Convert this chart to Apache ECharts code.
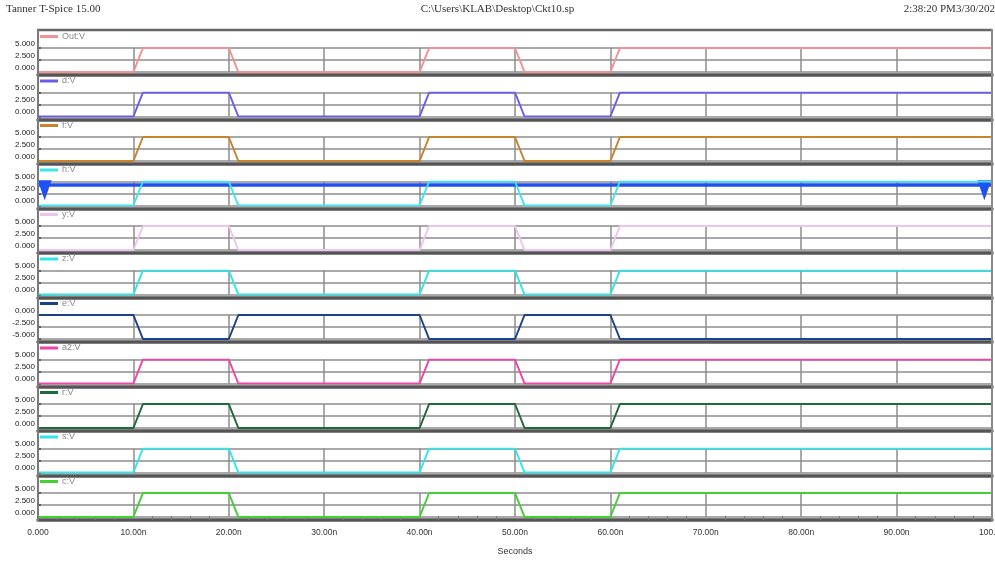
<!DOCTYPE html>
<html>
<head>
<meta charset="utf-8">
<script src="https://cdn.jsdelivr.net/npm/echarts@6/dist/echarts.min.js"></script>
<style>
  html, body { margin: 0; padding: 0; background: #ffffff; }
  #chart { width: 995px; height: 566px; }
</style>
</head>
<body>
<div id="chart"></div>
<script>
// Transient simulation: node voltages sampled at the pulse edges (time in ns)
const times = [0, 10, 11, 20, 21, 40, 41, 50, 51, 60, 61, 100];

const outV = [0, 0, 5, 5, 0, 0, 5, 5, 0, 0, 5, 5];
const dV   = [0, 0, 5, 5, 0, 0, 5, 5, 0, 0, 5, 5];
const fV   = [0, 0, 5, 5, 0, 0, 5, 5, 0, 0, 5, 5];
const hV   = [0, 0, 5, 5, 0, 0, 5, 5, 0, 0, 5, 5];
const yV   = [0, 0, 5, 5, 0, 0, 5, 5, 0, 0, 5, 5];
const zV   = [0, 0, 5, 5, 0, 0, 5, 5, 0, 0, 5, 5];
const eV   = [0, 0, -5, -5, 0, 0, -5, -5, 0, 0, -5, -5];
const a2V  = [0, 0, 5, 5, 0, 0, 5, 5, 0, 0, 5, 5];
const rV   = [0, 0, 5, 5, 0, 0, 5, 5, 0, 0, 5, 5];
const sV   = [0, 0, 5, 5, 0, 0, 5, 5, 0, 0, 5, 5];
const cV   = [0, 0, 5, 5, 0, 0, 5, 5, 0, 0, 5, 5];

const traceNames  = ['Out:V', 'd:V', 'f:V', 'h:V', 'y:V', 'z:V', 'e:V', 'a2:V', 'r:V', 's:V', 'c:V'];
const traceValues = [outV, dV, fV, hV, yV, zV, eV, a2V, rV, sV, cV];
const traceColors = ['#f49191', '#6b5cf0', '#c8842c', '#3fe6f0', '#f0c2f0', '#2fe6e6',
                     '#1f4189', '#f043a8', '#1f6a36', '#2fe6f0', '#42d032'];
const yRanges = [[0, 5], [0, 5], [0, 5], [0, 5], [0, 5], [0, 5], [-5, 0], [0, 5], [0, 5], [0, 5], [0, 5]];

// Horizontal cursor on the h:V trace
const cursorLevel = 4.4;
const cursorColor = '#1f50f0';
const cursorMarks = [[0.7, 3.2], [99.2, 3.2]];

const headerLeft = 'Tanner T-Spice 15.00';
const headerCenter = 'C:\\Users\\KLAB\\Desktop\\Ckt10.sp';
const headerRight = '2:38:20 PM3/30/202';

const xTickStep = 10;
const xMax = 100;

// Layout of the stacked panels
const plotLeft = 38, plotRight = 3;
const firstTop = 48, pitch = 44.5, plotH = 24;
const nPanels = traceNames.length;

const chart = echarts.init(document.getElementById('chart'), null, { renderer: 'canvas' });

const grids = [], xAxes = [], yAxes = [], series = [], legends = [];
for (let i = 0; i < nPanels; i++) {
  const top = firstTop + pitch * i;
  const last = i === nPanels - 1;
  grids.push({ left: plotLeft, right: plotRight, top: top, height: plotH,
               containLabel: false, outerBoundsMode: 'none' });

  xAxes.push({
    type: 'value', gridIndex: i, min: 0, max: xMax, interval: xTickStep,
    offset: 3,
    axisLine: { show: true, onZero: false, lineStyle: { color: '#555555', width: 3.5 } },
    axisTick: { show: false, inside: true },
    minorTick: last ? { show: true, splitNumber: 5, length: 4, lineStyle: { color: '#777777', width: 1 } } : { show: false },
    splitLine: { show: true, lineStyle: { color: '#8c8c8c', width: 1.5 } },
    axisLabel: last ? {
      show: true, fontSize: 8.5, color: '#333333', fontFamily: 'Liberation Sans', margin: 8,
      formatter: v => v === 0 ? '0.000' : (v >= 100 ? v.toFixed(1) + 'n' : v.toFixed(2) + 'n')
    } : { show: false },
    name: last ? 'Seconds' : '',
    nameLocation: 'middle', nameGap: 27,
    nameTextStyle: { fontSize: 9, color: '#333333', fontFamily: 'Liberation Sans' }
  });

  yAxes.push({
    type: 'value', gridIndex: i, min: yRanges[i][0], max: yRanges[i][1], interval: 2.5,
    axisLine: { show: false },
    axisTick: { show: true, inside: true, length: 3, lineStyle: { color: '#444444', width: 1.5 } },
    splitLine: { show: true, lineStyle: { color: '#8c8c8c', width: 1.5 } },
    axisLabel: {
      fontSize: 8, color: '#222222', fontFamily: 'Liberation Sans', margin: 3,
      verticalAlign: 'bottom', lineHeight: 9,
      formatter: v => v.toFixed(3)
    }
  });

  const s = {
    name: traceNames[i], type: 'line', xAxisIndex: i, yAxisIndex: i,
    data: times.map((t, k) => [t, traceValues[i][k]]),
    showSymbol: false, symbol: 'none', animation: false,
    lineStyle: { color: traceColors[i], width: 2 },
    itemStyle: { color: traceColors[i] },
    z: 5
  };
  if (i === 3) {
    s.markLine = {
      silent: true, symbol: 'none', animation: false,
      label: { show: false },
      lineStyle: { color: cursorColor, width: 3.5, type: 'solid' },
      data: [{ yAxis: cursorLevel }]
    };
    s.markPoint = {
      silent: true, animation: false,
      symbol: 'triangle', symbolRotate: 180, symbolSize: [14, 20],
      itemStyle: { color: cursorColor },
      label: { show: false },
      data: cursorMarks.map(c => ({ coord: c }))
    };
  }
  series.push(s);

  legends.push({
    data: [traceNames[i]],
    left: 40, top: top - 16,
    itemWidth: 18, itemHeight: 3, itemGap: 4,
    icon: 'rect', selectedMode: false, padding: 0,
    textStyle: { fontSize: 9, color: '#8a8a8a', fontFamily: 'Liberation Sans', padding: [0, 0, 0, -1] }
  });
}

const bottomEdge = firstTop + pitch * (nPanels - 1) + plotH + 4;

chart.setOption({
  animation: false,
  backgroundColor: '#ffffff',
  grid: grids,
  xAxis: xAxes,
  yAxis: yAxes,
  legend: legends,
  series: series,
  graphic: [
    { type: 'text', left: 6, top: 4, style: { text: headerLeft, fontSize: 11, fill: '#333333', fontFamily: 'Liberation Serif' } },
    { type: 'text', left: 'center', top: 4, style: { text: headerCenter, fontSize: 11, fill: '#333333', fontFamily: 'Liberation Serif' } },
    { type: 'text', right: 0, top: 4, style: { text: headerRight, fontSize: 11, fill: '#333333', fontFamily: 'Liberation Serif' } },
    // frame of the waveform area
    { type: 'line', shape: { x1: plotLeft - 1, y1: 30, x2: 995 - plotRight, y2: 30 }, style: { stroke: '#666666', lineWidth: 2.5 }, z: 10 },
    { type: 'line', shape: { x1: plotLeft, y1: 29, x2: plotLeft, y2: bottomEdge }, style: { stroke: '#7a7a7a', lineWidth: 2 }, z: 10 },
    { type: 'line', shape: { x1: 995 - plotRight, y1: 29, x2: 995 - plotRight, y2: bottomEdge }, style: { stroke: '#8a8a8a', lineWidth: 2 }, z: 10 }
  ]
});
</script>
</body>
</html>
